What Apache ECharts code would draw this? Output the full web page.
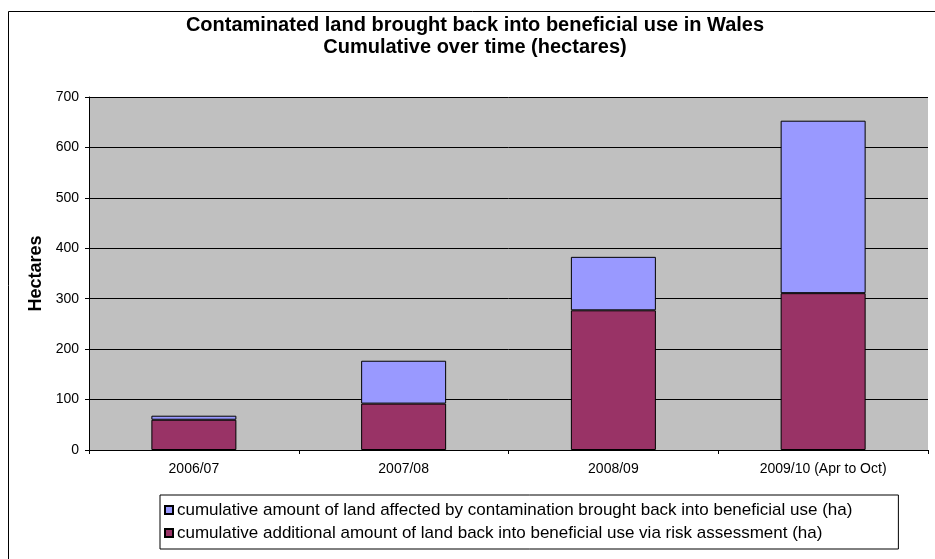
<!DOCTYPE html>
<html>
<head>
<meta charset="utf-8">
<script src="https://cdn.jsdelivr.net/npm/echarts@6/dist/echarts.min.js"></script>
<style>
  html, body { margin: 0; padding: 0; background: #fff; }
  #chart { width: 935px; height: 559px; }
</style>
</head>
<body>
<div id="chart"></div>
<script>
// values (hectares)
var years = ["2006/07", "2007/08", "2008/09", "2009/10 (Apr to Oct)"];
var riskAssessment = [60, 92, 277, 311];   // bottom, dark red
var affectedExtra = [8, 85, 106, 342];     // stacked on top, light blue
var yTicks = [0, 100, 200, 300, 400, 500, 600, 700];

var nameAffected = "cumulative amount of land affected by contamination brought back into beneficial use (ha)";
var nameRisk = "cumulative additional amount of land back into beneficial use via risk assessment (ha)";

var chart = echarts.init(document.getElementById("chart"));
var font = "Arial, 'Liberation Sans', sans-serif";

chart.setOption({
  animation: false,
  textStyle: { fontFamily: font },
  title: {
    text: "Contaminated land brought back into beneficial use in Wales\nCumulative over time (hectares)",
    left: 470,
    textAlign: "center",
    top: 9,
    textStyle: { fontSize: 20, fontWeight: "bold", color: "#000", lineHeight: 22, fontFamily: font }
  },
  graphic: [
    {
      type: "rect",
      shape: { x: 8.5, y: 11.5, width: 940, height: 560 },
      style: { fill: null, stroke: "#000", lineWidth: 1 },
      z: -1
    }
  ],
  legend: {
    orient: "vertical",
    left: 160,
    top: 495,
    data: [nameAffected, nameRisk],
    itemWidth: 8,
    itemHeight: 8,
    itemGap: 3,
    padding: [5, 46, 6, 4],
    borderColor: "#000",
    borderWidth: 1,
    icon: "rect",
    textStyle: { fontSize: 17, lineHeight: 20, color: "#000", fontFamily: font, padding: [0, 0, 0, -1] }
  },
  grid: {
    left: 89,
    right: 7,
    top: 97,
    bottom: 109,
    show: true,
    backgroundColor: "#c0c0c0",
    borderWidth: 0
  },
  xAxis: {
    type: "category",
    data: years,
    axisLine: { lineStyle: { color: "#000", width: 1 } },
    axisTick: { show: true, length: 4, lineStyle: { color: "#000" } },
    axisLabel: { fontSize: 14, color: "#000", margin: 12 }
  },
  yAxis: {
    type: "value",
    min: 0,
    max: 700,
    interval: 100,
    name: "Hectares",
    nameLocation: "middle",
    nameGap: 44,
    nameTextStyle: { fontSize: 18, fontWeight: "bold", color: "#000", fontFamily: font },
    axisLine: { show: true, lineStyle: { color: "#000", width: 1 } },
    axisTick: { show: true, length: 4, lineStyle: { color: "#000" } },
    axisLabel: {
      fontSize: 14, color: "#000", margin: 10,
      formatter: function (v) { return yTicks.indexOf(v) >= 0 ? String(v) : ""; }
    },
    splitLine: { show: true, lineStyle: { color: "#000", width: 1 } }
  },
  series: [
    {
      name: nameRisk,
      type: "bar",
      stack: "total",
      barWidth: 85,
      data: riskAssessment,
      itemStyle: { color: "#993366", borderColor: "#000", borderWidth: 1 }
    },
    {
      name: nameAffected,
      type: "bar",
      stack: "total",
      barWidth: 85,
      data: affectedExtra,
      itemStyle: { color: "#9999ff", borderColor: "#000", borderWidth: 1 }
    }
  ]
});
</script>
</body>
</html>
